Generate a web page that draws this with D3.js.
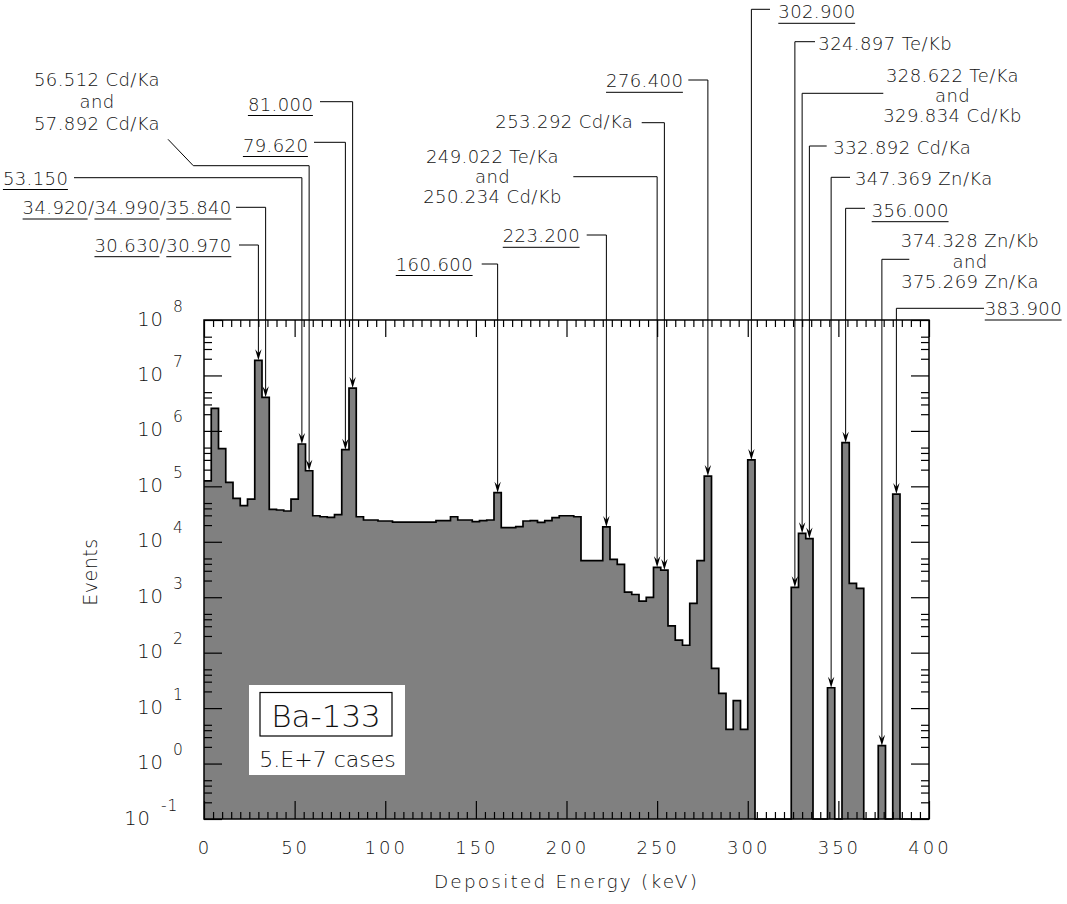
<!DOCTYPE html>
<html lang="en">
<head>
<meta charset="UTF-8">
<title>Ba-133 deposited energy spectrum</title>
<script src="https://d3js.org/d3.v7.min.js"></script>
<style>
    body { margin: 0; background: #fff; }
    svg text { font-family: "DejaVu Sans", sans-serif; font-weight: 200; fill: #111; }
</style>
</head>
<body>
<div id="chart"></div>
<script>
// histogram: 4 keV bins from 0 to 400 keV, events per bin (0 = empty bin)
const binWidth = 4;
const counts = [
    1.25e5, 2.55e6, 4.78e5, 1.18e5, 6.07e4, 4.48e4, 5.9e4, 1.87e7, 4.03e6, 3.85e4,
    3.74e4, 3.59e4, 5.9e4, 5.8e5, 1.91e5, 2.95e4, 2.83e4, 2.75e4, 3.08e4, 4.58e5,
    5.93e6, 2.83e4, 2.47e4, 2.47e4, 2.37e4, 2.37e4, 2.27e4, 2.27e4, 2.27e4, 2.27e4,
    2.27e4, 2.27e4, 2.4e4, 2.4e4, 2.83e4, 2.47e4, 2.47e4, 2.3e4, 2.4e4, 2.47e4,
    7.67e4, 1.8e4, 1.8e4, 1.87e4, 2.37e4, 2.4e4, 2.24e4, 2.4e4, 2.72e4, 2.95e4,
    2.95e4, 2.83e4, 4.56e3, 4.56e3, 4.56e3, 1.85e4, 4.82e3, 3.92e3, 1.24e3, 1.12e3,
    853, 995, 3.46e3, 3.09e3, 303, 169, 136, 776, 4.56e3, 1.53e5,
    52, 18.5, 4.14, 13.6, 4.14, 2.99e5, 0, 0, 0, 0,
    0, 1.51e3, 1.42e4, 1.14e4, 0, 0, 23.3, 0, 6.12e5, 1.78e3,
    1.45e3, 0, 0, 2.1, 0, 7.26e4, 0, 0, 0, 0
];

const xTicks = [0, 50, 100, 150, 200, 250, 300, 350, 400];
const yExponents = [-1, 0, 1, 2, 3, 4, 5, 6, 7, 8];

// peak annotations: label lines and the energy used to find the bin
const peakLines = [
    ["30.630/30.970"],
    ["34.920/34.990/35.840"],
    ["53.150"],
    ["56.512 Cd/Ka", "and", "57.892 Cd/Ka"],
    ["79.620"],
    ["81.000"],
    ["160.600"],
    ["223.200"],
    ["249.022 Te/Ka", "and", "250.234 Cd/Kb"],
    ["253.292 Cd/Ka"],
    ["276.400"],
    ["302.900"],
    ["324.897 Te/Kb"],
    ["328.622 Te/Ka", "and", "329.834 Cd/Kb"],
    ["332.892 Cd/Ka"],
    ["347.369 Zn/Ka"],
    ["356.000"],
    ["374.328 Zn/Kb", "and", "375.269 Zn/Ka"],
    ["383.900"]
];
const peakEnergies = [30.63, 34.92, 53.15, 56.512, 79.62, 81.0, 160.6, 223.2, 249.022, 253.292,
    276.4, 302.9, 324.897, 328.622, 332.892, 347.369, 356.0, 374.328, 383.9];

// where each label sits on the page (anchor, text x, first baseline, line gap, leader end x, leader y)
const labelLayout = [
    { a: "end", tx: 231.7, ty: 251.7, lx: 239, ly: 245 },
    { a: "end", tx: 231.7, ty: 214, lx: 236, ly: 207.3 },
    { a: "end", tx: 68.3, ty: 184.5, lx: 74, ly: 177.7 },
    { a: "middle", tx: 97, ty: 86, gap: 22, lx: 193.3, ly: 165.7, diag: [168, 139.3] },
    { a: "end", tx: 308.3, ty: 151.5, lx: 314, ly: 142.3 },
    { a: "end", tx: 313.3, ty: 110.5, lx: 320, ly: 101.7 },
    { a: "end", tx: 473, ty: 270.5, lx: 481.7, ly: 264 },
    { a: "end", tx: 580, ty: 242.3, lx: 586.7, ly: 235 },
    { a: "middle", tx: 492.5, ty: 162.5, gap: 20, lx: 573.3, ly: 176.7 },
    { a: "end", tx: 633.3, ty: 128.3, lx: 641.7, ly: 122.7 },
    { a: "end", tx: 683.3, ty: 87.3, lx: 688.3, ly: 80 },
    { a: "start", tx: 778.3, ty: 18.3, lx: 770, ly: 9.3 },
    { a: "start", tx: 818.3, ty: 50, lx: 815, ly: 41.7 },
    { a: "middle", tx: 952.5, ty: 81.7, gap: 20, lx: 883.3, ly: 93.3 },
    { a: "start", tx: 833.3, ty: 154, lx: 826.7, ly: 146 },
    { a: "start", tx: 855, ty: 185, lx: 850, ly: 177.3 },
    { a: "start", tx: 871.7, ty: 216.7, lx: 865, ly: 208.3 },
    { a: "middle", tx: 970, ty: 247.3, gap: 20.5, lx: 909.3, ly: 259.3 },
    { a: "end", tx: 1062, ty: 315, lx: 984, ly: 308.3 }
];

const w = 1067;
const h = 904;
const margin = { top: 320, right: 138, bottom: 85, left: 204 };

const x = d3.scaleLinear()
    .domain([0, 400])
    .range([margin.left, w - margin.right]);
const y = d3.scaleLog()
    .domain([0.1, 1e8])
    .range([h - margin.bottom, margin.top]);

const yv = v => v > 0.1 ? y(v) : y(0.1);

const svg = d3.select("#chart")
    .append("svg")
    .attr("width", w)
    .attr("height", h);

// histogram fill + outline
const pts = counts.map((v, i) => [i * binWidth, v]);
pts.push([counts.length * binWidth, counts[counts.length - 1]]);

svg.append("path")
    .datum(pts)
    .attr("fill", "#808080")
    .attr("d", d3.area()
        .x(d => x(d[0]))
        .y0(y(0.1))
        .y1(d => yv(d[1]))
        .curve(d3.curveStepAfter));

svg.append("path")
    .datum(pts)
    .attr("fill", "none")
    .attr("stroke", "#000")
    .attr("stroke-width", 1.7)
    .attr("d", d3.line()
        .x(d => x(d[0]))
        .y(d => yv(d[1]))
        .curve(d3.curveStepAfter));

// ticks on all four sides, pointing inwards
const majorY = yExponents.map(e => Math.pow(10, e));
const minorY = [];
yExponents.slice(0, -1).forEach(e => [2, 3, 4, 5].forEach(k => minorY.push(k * Math.pow(10, e))));
const minorX = d3.range(0, 401, 5).filter(v => v % 50 !== 0);

function tickAxis(axis, tx, ty) {
    const g = svg.append("g")
        .attr("transform", "translate(" + tx + "," + ty + ")")
        .call(axis.tickSizeOuter(0).tickFormat(""));
    g.select(".domain").remove();
    g.selectAll("line").attr("stroke", "#000").attr("stroke-width", 1.2);
}
const pTop = margin.top, pBot = h - margin.bottom, pLeft = margin.left, pRight = w - margin.right;
tickAxis(d3.axisRight(y).tickValues(majorY).tickSize(18), pLeft, 0);
tickAxis(d3.axisRight(y).tickValues(minorY).tickSize(8), pLeft, 0);
tickAxis(d3.axisLeft(y).tickValues(majorY).tickSize(18), pRight, 0);
tickAxis(d3.axisLeft(y).tickValues(minorY).tickSize(8), pRight, 0);
tickAxis(d3.axisBottom(x).tickValues(xTicks).tickSize(17), 0, pTop);
tickAxis(d3.axisBottom(x).tickValues(minorX).tickSize(7), 0, pTop);
tickAxis(d3.axisTop(x).tickValues(xTicks).tickSize(18), 0, pBot);
tickAxis(d3.axisTop(x).tickValues(minorX).tickSize(7), 0, pBot);

// frame
svg.append("rect")
    .attr("x", pLeft).attr("y", pTop)
    .attr("width", pRight - pLeft).attr("height", pBot - pTop)
    .attr("fill", "none")
    .attr("stroke", "#000")
    .attr("stroke-width", 1.5);

// x tick labels
svg.append("g")
    .selectAll("text")
    .data(xTicks)
    .join("text")
    .attr("x", d => x(d) + 1)
    .attr("y", pBot + 35)
    .attr("text-anchor", "middle")
    .attr("font-size", 18)
    .attr("letter-spacing", 3)
    .text(d => d);

// y tick labels: 10 with superscript exponent
const yl = svg.append("g")
    .selectAll("text")
    .data(yExponents)
    .join("text")
    .attr("font-size", 19.5)
    .attr("letter-spacing", 1);
yl.append("tspan")
    .attr("x", d => d < 0 ? 151 : 164)
    .attr("y", d => y(Math.pow(10, d)) + 5.5)
    .attr("text-anchor", "end")
    .text("10");
yl.append("tspan")
    .attr("x", d => d < 0 ? 161 : 173)
    .attr("y", d => y(Math.pow(10, d)) - 8.5)
    .attr("font-size", 15.5)
    .text(d => d);

// axis titles
svg.append("text")
    .attr("x", x(200))
    .attr("y", pBot + 69)
    .attr("text-anchor", "middle")
    .attr("font-size", 18.5)
    .attr("letter-spacing", 2.2)
    .text("Deposited Energy (keV)");

svg.append("text")
    .attr("transform", "translate(97,572) rotate(-90)")
    .attr("text-anchor", "middle")
    .attr("font-size", 19)
    .attr("letter-spacing", 0.5)
    .text("Events");

// source box
const box = svg.append("g");
box.append("rect")
    .attr("x", 249).attr("y", 685)
    .attr("width", 156).attr("height", 90)
    .attr("fill", "#fff");
box.append("rect")
    .attr("x", 260).attr("y", 692.5)
    .attr("width", 132).attr("height", 43.5)
    .attr("fill", "none")
    .attr("stroke", "#000")
    .attr("stroke-width", 1.2);
box.append("text")
    .attr("x", 326).attr("y", 727)
    .attr("text-anchor", "middle")
    .attr("font-size", 31)
    .text("Ba-133");
box.append("text")
    .attr("x", 327.5).attr("y", 766.5)
    .attr("text-anchor", "middle")
    .attr("font-size", 22)
    .text("5.E+7 cases");

// peak labels with leaders and arrows
const ann = svg.append("g");
peakLines.forEach((lines, i) => {
    const L = labelLayout[i];
    const bin = Math.ceil(peakEnergies[i] / binWidth) - 1;
    const ax = x((bin + 0.5) * binWidth);
    const tipY = yv(counts[bin]);

    const t = ann.append("text")
        .attr("text-anchor", L.a)
        .attr("font-size", 18)
        .attr("letter-spacing", 0.4);
    lines.forEach((s, j) => {
        t.append("tspan")
            .attr("x", L.tx)
            .attr("y", L.ty + j * (L.gap || 0))
            .text(s);
    });

    // underline pure-number labels, each number separately
    if (lines.length === 1 && /^[\d./]+$/.test(lines[0])) {
        const el = t.node();
        let pos = 0;
        lines[0].split("/").forEach(part => {
            const x0 = el.getStartPositionOfChar(pos).x;
            const x1 = el.getEndPositionOfChar(pos + part.length - 1).x;
            ann.append("line")
                .attr("x1", x0).attr("x2", x1 - 0.4)
                .attr("y1", L.ty + 5).attr("y2", L.ty + 5)
                .attr("stroke", "#000")
                .attr("stroke-width", 1);
            pos += part.length + 1;
        });
    }

    let d = "";
    if (L.diag) d += "M" + L.diag[0] + "," + L.diag[1] + "L" + L.lx + "," + L.ly;
    else d += "M" + L.lx + "," + L.ly;
    d += "L" + ax + "," + L.ly + "L" + ax + "," + (tipY - 6);
    ann.append("path")
        .attr("d", d)
        .attr("fill", "none")
        .attr("stroke", "#000")
        .attr("stroke-width", 1);

    ann.append("path")
        .attr("transform", "translate(" + ax + "," + tipY + ")")
        .attr("d", "M0,0L-3.2,-11L0,-7L3.2,-11Z")
        .attr("fill", "#000");
});
</script>
</body>
</html>
